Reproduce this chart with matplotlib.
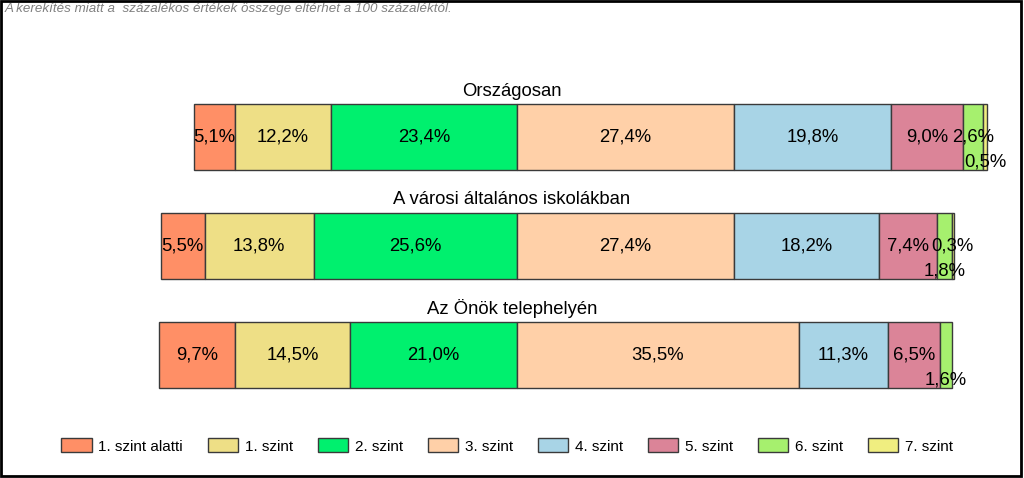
import matplotlib
matplotlib.use("Agg")
import matplotlib.pyplot as plt
from matplotlib.patches import Rectangle, Patch
from matplotlib.transforms import blended_transform_factory, offset_copy

plt.rcParams["font.family"] = ["Liberation Sans", "DejaVu Sans"]

# ── Data ────────────────────────────────────────────────────────────────────
groups = ["Országosan", "A városi általános iskolákban", "Az Önök telephelyén"]
levels = ["1. szint alatti", "1. szint", "2. szint", "3. szint",
          "4. szint", "5. szint", "6. szint", "7. szint"]
orszagos = [5.1, 12.2, 23.4, 27.4, 19.8, 9.0, 2.6, 0.5]
varosi   = [5.5, 13.8, 25.6, 27.4, 18.2, 7.4, 1.8, 0.3]
telephely = [9.7, 14.5, 21.0, 35.5, 11.3, 6.5, 1.6, 0.0]
values = [orszagos, varosi, telephely]

# levels below this index are drawn to the left of zero
split = 3

# ── Style ───────────────────────────────────────────────────────────────────
colors = ["#FF8F66", "#EEDF86", "#00F06E", "#FFD0A8",
          "#A8D4E6", "#DB8498", "#A6F06E", "#F0EE80"]
EDGE = "#3A3A3A"
note = "A kerekítés miatt a  százalékos értékek összege eltérhet a 100 százaléktól."

# labels pushed below the bar centre (group index, level index)
lowered = {(0, 7), (1, 6), (2, 6)}

W, H = 1024, 478
fig = plt.figure(figsize=(W / 100, H / 100), dpi=100)
ax = fig.add_axes([0, 0, 1, 1])
ax.set_axis_off()

px_per_pct = 7.93
zero_px = 517
ax.set_xlim(-zero_px / px_per_pct, (W - zero_px) / px_per_pct)
row_px = 109.0
first_px = 137.0
ax.set_ylim((H - first_px) / row_px, -first_px / row_px)
bar_h = 66 / row_px

for g, vals in enumerate(values):
    left = -sum(vals[:split])
    for i, v in enumerate(vals):
        if v <= 0:
            left += v
            continue
        ax.barh(g, v, left=left, height=bar_h, color=colors[i],
                edgecolor=EDGE, linewidth=1.0)
        cx = left + v / 2
        lbl = f"{v:.1f}".replace(".", ",") + "%"
        dy = 0
        if (g, i) in lowered:
            dy = -25
        tr = offset_copy(ax.transData, fig=fig, x=0, y=dy, units="dots")
        ax.text(cx, g, lbl, transform=tr, ha="center", va="center",
                fontsize=13.3, color="black")
        left += v
    tt = blended_transform_factory(fig.transFigure, ax.transData)
    ax.text(0.5, g - bar_h / 2 - 13 / row_px, groups[g], transform=tt,
            ha="center", va="center", fontsize=13.3)

handles = [Patch(facecolor=c, edgecolor=EDGE, linewidth=1.0) for c in colors]
fig.legend(handles, levels, loc="center", ncol=8,
           bbox_to_anchor=(507 / W, 1 - 446 / H), frameon=False,
           fontsize=11, handlelength=2.0, handleheight=1.0,
           handletextpad=0.45, columnspacing=1.6)

fig.text(5 / W, 1 - 3 / H, note, ha="left", va="top", fontsize=9.6,
         style="italic", color="#808080")

fig.add_artist(Rectangle((1 / W, 2 / H), 1019.5 / W, 1 - 3 / H,
                         transform=fig.transFigure, fill=False,
                         edgecolor="black", linewidth=2))

fig.savefig("out.png", dpi=100)
